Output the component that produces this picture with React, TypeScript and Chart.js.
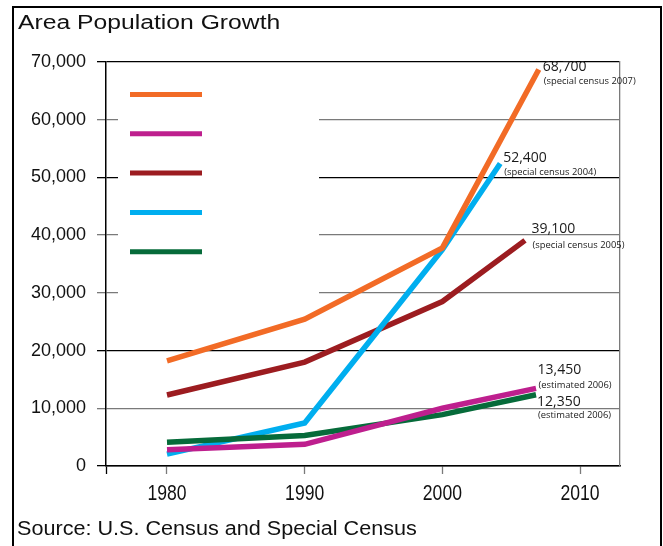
import React, { useEffect, useRef } from "react";
import { Chart, registerables } from "chart.js";

Chart.register(...registerables);

// ---- data ----
const censusYears = [1980, 1990, 2000];
const endYears = [2007, 2006.8, 2006, 2004.2, 2006.8];
const orangeValues = [18200, 25450, 37800, 68700];
const magentaValues = [2800, 3750, 10000, 13450];
const darkRedValues = [12300, 18000, 28500, 39100];
const blueValues = [2050, 7450, 37500, 52400];
const greenValues = [4100, 5300, 8900, 12350];
const endLabels = ["68,700", "13,450", "39,100", "52,400", "12,350"];
const endNotes = [
  "(special census 2007)",
  "(estimated 2006)",
  "(special census 2005)",
  "(special census 2004)",
  "(estimated 2006)",
];
const xTickYears = [1980, 1990, 2000, 2010];
const yTickValues = [0, 10000, 20000, 30000, 40000, 50000, 60000, 70000];
const titleText = "Area Population Growth";
const sourceText = "Source: U.S. Census and Special Census";

// ---- styles ----
const seriesValues = [orangeValues, magentaValues, darkRedValues, blueValues, greenValues];
const seriesColors = ["#F26B26", "#BE1F8E", "#9C1C20", "#00AEEF", "#066B3A"];
const drawOrder = [0, 1, 4, 3, 2];
const labelOffsets = [
  { dx: 4, dy: -2.5, gap: 14.5 },
  { dx: 1.5, dy: -18.4, gap: 15 },
  { dx: 6.5, dy: -11, gap: 16 },
  { dx: 3, dy: -5.3, gap: 14.4 },
  { dx: 1, dy: 6.8, gap: 13.5 },
];
const X_MIN = 1975.57;
const X_MAX = 2012.9;
const BLACK_LINES = [0, 20000, 50000, 70000];
const GRAY = "#7a7a7a";

export default function App() {
  const canvasRef = useRef<HTMLCanvasElement | null>(null);

  useEffect(() => {
    const canvas = canvasRef.current;
    if (!canvas) return;

    const datasets = seriesValues.map((vals, i) => ({
      label: "series " + (i + 1),
      data: vals.map((v, k) => ({ x: k < censusYears.length ? censusYears[k] : endYears[i], y: v })),
      borderColor: seriesColors[i],
      backgroundColor: seriesColors[i],
      borderWidth: 5.5,
      pointRadius: 0,
      tension: 0,
      fill: false,
      order: drawOrder[i],
      borderCapStyle: "butt" as const,
      borderJoinStyle: "miter" as const,
    }));

    const gridGap = {
      id: "gridGap",
      beforeDatasetsDraw(chart: any) {
        const { ctx, chartArea, scales } = chart;
        const y = scales.y;
        const top = y.getPixelForValue(66000);
        const bottom = y.getPixelForValue(24000);
        ctx.save();
        ctx.fillStyle = "#ffffff";
        ctx.fillRect(chartArea.left + 12, top, 201, bottom - top);
        ctx.restore();
      },
    };

    const swatchLegend = {
      id: "swatchLegend",
      afterDatasetsDraw(chart: any) {
        const { ctx, chartArea } = chart;
        ctx.save();
        ctx.lineWidth = 5;
        ctx.lineCap = "butt";
        seriesColors.forEach((c, i) => {
          const yy = chartArea.top + 32.5 + i * 39.3;
          ctx.strokeStyle = c;
          ctx.beginPath();
          ctx.moveTo(chartArea.left + 24, yy);
          ctx.lineTo(chartArea.left + 96, yy);
          ctx.stroke();
        });
        ctx.restore();
      },
    };

    // condensed x-axis year labels, placed by the x scale
    const narrowXLabels = {
      id: "narrowXLabels",
      afterDraw(chart: any) {
        const { ctx, chartArea, scales } = chart;
        const xs = scales.x;
        ctx.save();
        ctx.fillStyle = "#111";
        ctx.textAlign = "center";
        ctx.textBaseline = "middle";
        ctx.font = '22px "Liberation Sans", Arial, sans-serif';
        xTickYears.forEach((yr) => {
          const px = xs.getPixelForValue(yr);
          ctx.save();
          ctx.translate(px, chartArea.bottom + 28);
          ctx.scale(0.8, 1);
          ctx.fillText(String(yr), 0, 0);
          ctx.restore();
        });
        ctx.restore();
      },
    };

    const endAnnotations = {
      id: "endAnnotations",
      afterDatasetsDraw(chart: any) {
        const { ctx } = chart;
        ctx.save();
        ctx.fillStyle = "#1a1a1a";
        ctx.textAlign = "left";
        ctx.textBaseline = "middle";
        seriesValues.forEach((_, i) => {
          const meta = chart.getDatasetMeta(i);
          const last = meta.data[meta.data.length - 1];
          const o = labelOffsets[i];
          const x = last.x + o.dx;
          const y = last.y + o.dy;
          ctx.font = '14px "Open Sans", "Noto Sans", sans-serif';
          ctx.fillText(endLabels[i], x, y);
          ctx.font = '9.4px "Open Sans", "Noto Sans", sans-serif';
          ctx.fillText(endNotes[i], x + 1, y + o.gap);
        });
        ctx.restore();
      },
    };

    const chart = new Chart(canvas, {
      type: "line",
      data: { datasets },
      options: {
        animation: false,
        responsive: false,
        maintainAspectRatio: false,
        events: [],
        layout: { padding: { left: 0, top: 62, right: 43, bottom: 0 } },
        plugins: {
          legend: { display: false },
          tooltip: { enabled: false },
          title: { display: false },
        },
        scales: {
          x: {
            type: "linear",
            position: "bottom",
            min: X_MIN,
            max: X_MAX,
            afterFit: (s: any) => {
              s.height = 80;
            },
            afterBuildTicks: (s: any) => {
              s.ticks = [X_MIN, ...xTickYears].map((v) => ({ value: v }));
            },
            ticks: {
              display: false,
              autoSkip: false,
              maxRotation: 0,
            },
            grid: {
              drawOnChartArea: false,
              drawTicks: true,
              tickLength: 8,
              tickWidth: 1.3,
              color: GRAY,
              tickColor: (ctx: any) => (ctx.tick && ctx.tick.value === X_MIN ? "#000" : GRAY),
            },
            border: { display: true, color: "#000", width: 1.5 },
          },
          y: {
            type: "linear",
            position: "left",
            min: 0,
            max: 70000,
            afterFit: (s: any) => {
              s.width = 106;
            },
            afterBuildTicks: (s: any) => {
              s.ticks = yTickValues.map((v) => ({ value: v }));
            },
            ticks: {
              autoSkip: false,
              padding: 11,
              color: "#111",
              font: { family: '"Liberation Sans", Arial, sans-serif', size: 18 },
              callback: (v: any) => Number(v).toLocaleString("en-US"),
            },
            grid: {
              drawTicks: true,
              tickLength: 9,
              lineWidth: 1.3,
              color: (ctx: any) => (ctx.tick && BLACK_LINES.includes(ctx.tick.value) ? "#000" : GRAY),
            },
            border: { display: true, color: "#000", width: 1.5 },
          },
          y2: {
            type: "linear",
            position: "right",
            min: 0,
            max: 70000,
            afterFit: (s: any) => {
              s.width = 0;
            },
            ticks: { display: false },
            grid: { display: false, drawTicks: false },
            border: { display: true, color: GRAY, width: 1.3 },
          },
        },
      },
      plugins: [gridGap, swatchLegend, endAnnotations, narrowXLabels],
    });

    return () => {
      chart.destroy();
    };
  }, []);

  return (
    <div
      style={{
        position: "fixed",
        left: 0,
        top: 0,
        width: 663,
        height: 546,
        overflow: "hidden",
        background: "#fff",
      }}
    >
      <div
        style={{
          position: "absolute",
          left: 12,
          top: 6,
          width: 650,
          height: 600,
          border: "2px solid #000",
          boxSizing: "border-box",
        }}
      />
      <canvas
        ref={canvasRef}
        width={663}
        height={546}
        style={{ position: "absolute", left: 0, top: 0, width: 663, height: 546 }}
      />
      <div
        style={{
          position: "absolute",
          left: 18,
          top: 12,
          fontFamily: '"Liberation Sans", Arial, sans-serif',
          fontSize: 20,
          lineHeight: "20px",
          color: "#111",
          whiteSpace: "nowrap",
          transform: "scaleX(1.235)",
          transformOrigin: "left top",
        }}
      >
        {titleText}
      </div>
      <div
        style={{
          position: "absolute",
          left: 17,
          top: 518,
          fontFamily: '"Liberation Sans", Arial, sans-serif',
          fontSize: 20,
          lineHeight: "20px",
          color: "#111",
          whiteSpace: "nowrap",
          transform: "scaleX(1.08)",
          transformOrigin: "left top",
        }}
      >
        {sourceText}
      </div>
    </div>
  );
}
